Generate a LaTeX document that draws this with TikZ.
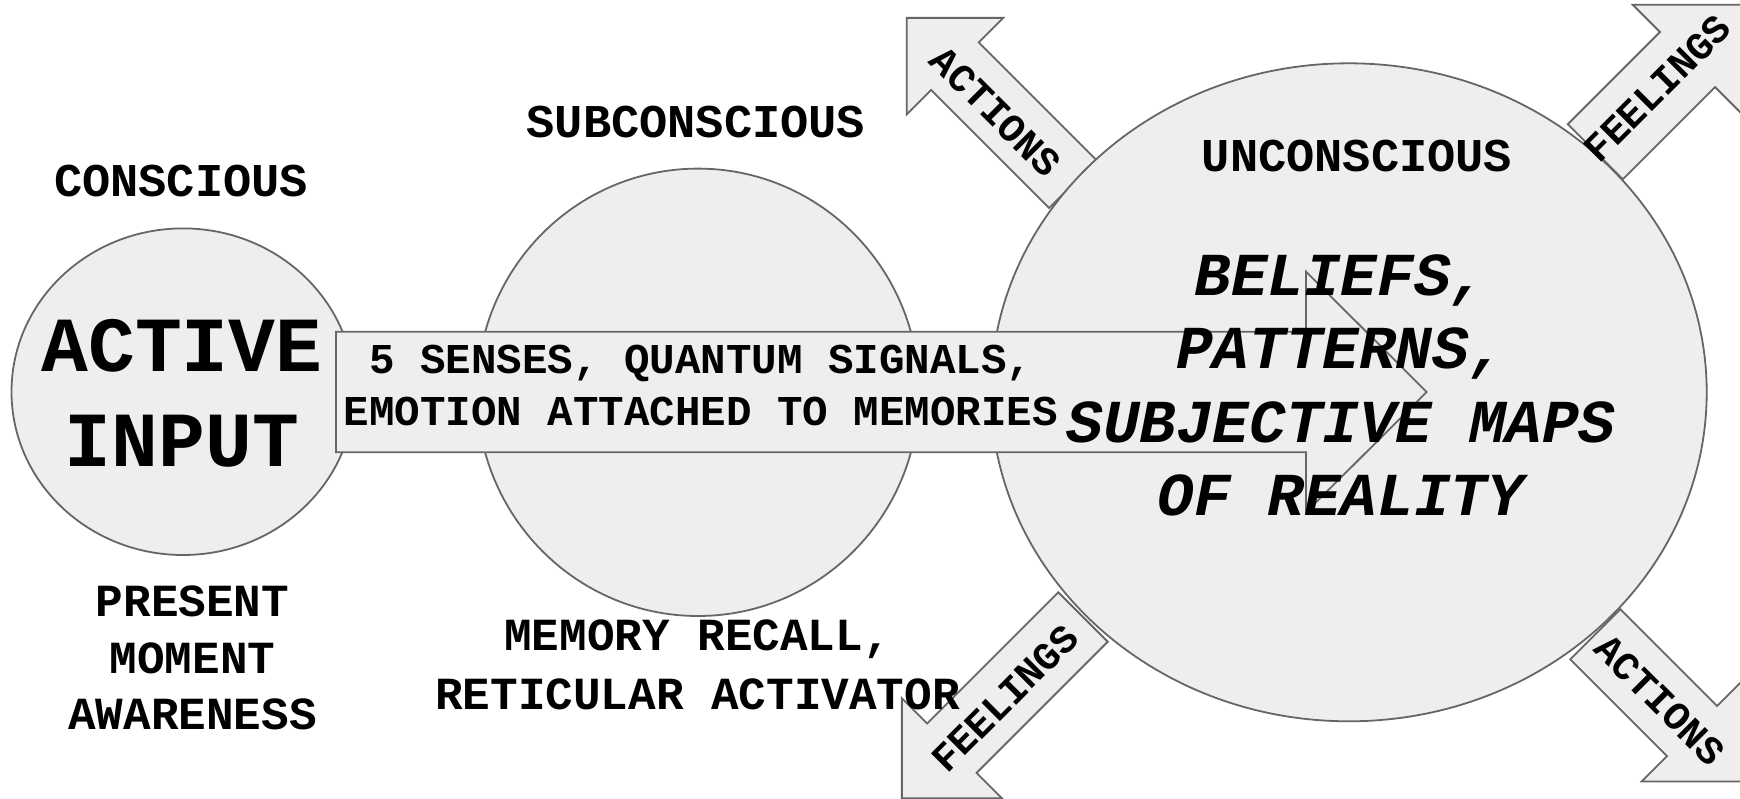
\documentclass[tikz,border=0pt]{standalone}
\usepackage{fontspec}
\newfontfamily\cour{Liberation Mono}
\usetikzlibrary{shapes.geometric}
\definecolor{shapegray}{HTML}{EEEEEE}
\definecolor{edgegray}{HTML}{666666}

% block arrow: base x, base y, direction angle, length, shaft half-width, head half-width
\newcommand\blockarr[6]{%
  \begin{scope}[shift={(#1,#2)},rotate=#3]
    \path[blob] (0,-#5) -- ({#4-#6},-#5) -- ({#4-#6},-#6) -- (#4,0)
      -- ({#4-#6},#6) -- ({#4-#6},#5) -- (0,#5) -- cycle;
  \end{scope}}

\tikzset{
  blob/.style={fill=shapegray,draw=edgegray,line width=0.9pt,line join=miter},
  orb/.style={blob,ellipse,inner sep=0pt},
  txt/.style={inner sep=0pt,anchor=base,text=black},
  titlefont/.style={txt,font=\cour\bfseries\fontsize{23.5}{28}\selectfont},
  notefont/.style={txt,font=\cour\bfseries\fontsize{23}{28}\selectfont},
  bigfont/.style={txt,font=\cour\bfseries\fontsize{39}{46}\selectfont},
  flowfont/.style={txt,font=\cour\bfseries\fontsize{21.25}{26}\selectfont},
  beliefont/.style={txt,font=\cour\bfseries\itshape\fontsize{30.5}{36}\selectfont},
  tagfont/.style={inner sep=0pt,anchor=center,text=black,font=\cour\bfseries\fontsize{19.75}{24}\selectfont},
}

\begin{document}
\begin{tikzpicture}[x=0.5pt,y=-0.5pt]
  \useasboundingbox (0,0) rectangle (1740,798);
  \clip (0,0) rectangle (1740,798);
  \fill[white] (0,0) rectangle (1740,798);

  % arrows leaving the unconscious
  \blockarr{1073}{184.2}{135}{235.2}{33.7}{68.2}
  \blockarr{1595.35}{151.65}{45}{207.8}{38.9}{77.5}
  \blockarr{1083}{617}{225}{256.2}{35}{70.7}
  \blockarr{1595.3}{634.3}{-45}{208.2}{35.4}{71.4}

  % the three minds
  \node[orb,minimum width=171.5pt,minimum height=163.3pt] (conscious) at (183,391.7) {};
  \node[orb,minimum width=221pt,minimum height=223.7pt] (subconscious) at (698,392.3) {};
  \node[orb,minimum width=357.9pt,minimum height=329pt] (unconscious) at (1348.8,392.3) {};

  % input flow arrow
  \path[blob] (336,331.7) -- (1306,331.7) -- (1306,271.7) -- (1426.7,392)
    -- (1306,512.3) -- (1306,452.3) -- (336,452.3) -- cycle;

  % headings
  \node[titlefont] (tconscious) at (181,196.7) {CONSCIOUS};
  \node[titlefont] (tsub) at (696,137.3) {SUBCONSCIOUS};
  \node[titlefont] (tun) at (1357,171.7) {UNCONSCIOUS};

  % captions below
  \node[notefont] (p1) at (192.5,616.7) {PRESENT};
  \node[notefont] (p2) at (192.5,673.3) {MOMENT};
  \node[notefont] (p3) at (192.5,729.3) {AWARENESS};
  \node[notefont] (m1) at (697.5,650) {MEMORY RECALL,};
  \node[notefont] (m2) at (697.5,709) {RETICULAR ACTIVATOR};

  % circle contents
  \node[bigfont] (a1) at (182,371.7) {ACTIVE};
  \node[bigfont] (a2) at (182,466.7) {INPUT};
  \node[flowfont] (f1) at (701,373.3) {5 SENSES, QUANTUM SIGNALS,};
  \node[flowfont] (f2) at (701,425) {EMOTION ATTACHED TO MEMORIES};
  \node[beliefont] (b1) at (1341,295) {BELIEFS,};
  \node[beliefont] (b2) at (1341,368.3) {PATTERNS,};
  \node[beliefont] (b3) at (1341,442.7) {SUBJECTIVE MAPS};
  \node[beliefont] (b4) at (1341,515) {OF REALITY};

  % arrow labels
  \node[tagfont,rotate=-45] (tl) at (995.7,111.7) {ACTIONS};
  \node[tagfont,rotate=45] (tr) at (1657.3,88.3) {FEELINGS};
  \node[tagfont,rotate=45] (bl) at (1005,698.3) {FEELINGS};
  \node[tagfont,rotate=-45] (br) at (1660,700) {ACTIONS};
\end{tikzpicture}
\end{document}
